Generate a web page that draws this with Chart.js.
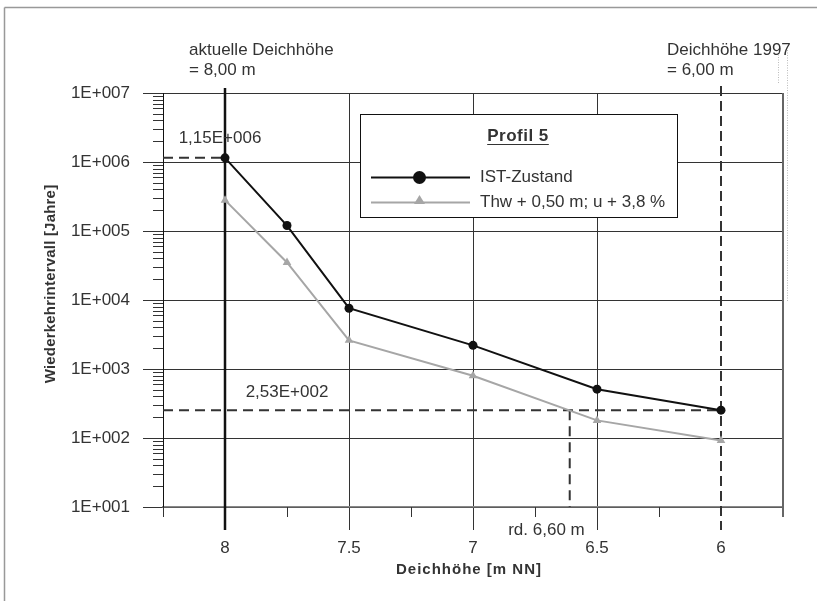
<!DOCTYPE html>
<html>
<head>
<meta charset="utf-8">
<script src="https://cdn.jsdelivr.net/npm/chart.js@4.4.1/dist/chart.umd.min.js"></script>
<style>
  html, body { margin: 0; padding: 0; background: #fff; }
  #wrap { width: 817px; height: 601px; }
</style>
</head>
<body>
<div id="wrap"><canvas id="chart" width="817" height="601"></canvas></div>
<script>
/* Profil 5 – Wiederkehrintervall über Deichhöhe */

// Deichhöhe [m NN] of the computed points
const deichhoehe = [8, 7.75, 7.5, 7, 6.5, 6];
// Wiederkehrintervall [Jahre]
const istZustand = [1.15e6, 1.2e5, 7.6e3, 2.2e3, 510, 253];
const thwSzenario = [2.8e5, 3.5e4, 2.6e3, 800, 180, 92];

const xTicks = [8, 7.5, 7, 6.5, 6];
const xMinorTicks = [8.25, 7.75, 7.25, 6.75, 6.25, 5.75];
const yTicks = [1e1, 1e2, 1e3, 1e4, 1e5, 1e6, 1e7];
const xMin = 5.75;
const xMax = 8.25;

// reference values
const aktuelleHoehe = 8;
const hoehe1997 = 6;
const wertAktuell = 1.15e6;
const wert1997 = 253;
const hoeheSzenario = 6.61;

const FONT = "'Liberation Sans', Arial, sans-serif";
const TXT = "#333";
const BLACK = "#111";
const GREY = "#a6a6a6";

Chart.defaults.font.family = FONT;
Chart.defaults.color = TXT;

const toPts = (ys) => deichhoehe.map((x, i) => ({ x, y: ys[i] }));

const refDash = {
  borderColor: "#333",
  borderWidth: 2,
  borderDash: [10, 6],
  pointRadius: 0,
  fill: false,
};

function line(ctx, x1, y1, x2, y2) {
  ctx.beginPath();
  ctx.moveTo(x1, y1);
  ctx.lineTo(x2, y2);
  ctx.stroke();
}

function text(ctx, str, x, y, align, font) {
  ctx.font = font || "17px " + FONT;
  ctx.textAlign = align || "left";
  ctx.textBaseline = "middle";
  ctx.fillStyle = TXT;
  ctx.fillText(str, x, y);
}

const extras = {
  id: "extras",
  beforeDraw(chart) {
    const ctx = chart.ctx;
    ctx.save();
    // outer frame of the figure
    ctx.strokeStyle = "#999";
    ctx.lineWidth = 1.5;
    line(ctx, 4.5, 7.5, 817, 7.5);
    line(ctx, 4.5, 7.5, 4.5, 601);
    ctx.restore();
  },
  beforeDatasetsDraw(chart) {
    const { ctx, chartArea: a, scales } = chart;
    const px = (v) => scales.x.getPixelForValue(v);
    const py = (v) => scales.y.getPixelForValue(v);
    ctx.save();

    // minor ticks
    ctx.strokeStyle = "#333";
    ctx.lineWidth = 1;
    yTicks.slice(0, -1).forEach((d) => {
      for (let k = 2; k <= 9; k++) {
        const y = Math.round(py(k * d)) + 0.5;
        line(ctx, a.left - 10, y, a.left, y);
      }
    });
    xMinorTicks.forEach((v) => {
      const x = Math.round(px(v)) + 0.5;
      line(ctx, x, a.bottom, x, a.bottom + 10);
    });

    // right border
    ctx.strokeStyle = "#666";
    ctx.lineWidth = 2;
    line(ctx, a.right, a.top, a.right, a.bottom + 10);

    // aktuelle Deichhöhe
    ctx.strokeStyle = BLACK;
    ctx.lineWidth = 2.5;
    line(ctx, px(aktuelleHoehe), a.top - 5, px(aktuelleHoehe), a.bottom + 23);

    // Deichhöhe 1997
    ctx.strokeStyle = "#333";
    ctx.lineWidth = 2;
    ctx.setLineDash([10, 5]);
    line(ctx, px(hoehe1997), a.top - 7, px(hoehe1997), a.bottom + 23);
    ctx.restore();
  },
  afterDraw(chart) {
    const { ctx, chartArea: a, scales } = chart;
    const px = (v) => scales.x.getPixelForValue(v);
    const py = (v) => scales.y.getPixelForValue(v);
    ctx.save();

    // annotations
    text(ctx, "aktuelle Deichhöhe", px(aktuelleHoehe) - 36, a.top - 43);
    text(ctx, "= 8,00 m", px(aktuelleHoehe) - 36, a.top - 23);
    text(ctx, "Deichhöhe 1997", px(hoehe1997) - 54, a.top - 43);
    text(ctx, "= 6,00 m", px(hoehe1997) - 54, a.top - 23);
    text(ctx, "1,15E+006", px(aktuelleHoehe) - 5, py(wertAktuell) - 19, "center");
    text(ctx, "2,53E+002", px(7.75), py(wert1997) - 18, "center");
    text(ctx, "rd. 6,60 m", px(hoeheSzenario) + 15, a.bottom + 23, "right");

    // axis titles
    ctx.letterSpacing = "1px";
    text(ctx, "Deichhöhe [m NN]", 469, 570, "center", "bold 15px " + FONT);
    ctx.translate(51, 284);
    ctx.rotate(-Math.PI / 2);
    ctx.letterSpacing = "0.2px";
    text(ctx, "Wiederkehrintervall [Jahre]", 0, 0, "center", "bold 15px " + FONT);
    ctx.setTransform(1, 0, 0, 1, 0, 0);
    ctx.letterSpacing = "0px";

    // legend box
    ctx.fillStyle = "#fff";
    ctx.fillRect(360.5, 114.5, 317, 103);
    ctx.strokeStyle = BLACK;
    ctx.lineWidth = 1;
    ctx.strokeRect(360.5, 114.5, 317, 103);

    ctx.letterSpacing = "0.5px";
    const tf = "bold 17px " + FONT;
    text(ctx, "Profil 5", 518, 136, "center", tf);
    ctx.font = tf;
    const tw = ctx.measureText("Profil 5").width;
    ctx.letterSpacing = "0px";
    ctx.strokeStyle = TXT;
    line(ctx, 518 - tw / 2, 144.5, 518 + tw / 2, 144.5);

    ctx.strokeStyle = BLACK;
    ctx.lineWidth = 2;
    line(ctx, 371, 177.5, 470, 177.5);
    ctx.fillStyle = BLACK;
    ctx.beginPath();
    ctx.arc(419.5, 177.5, 6.5, 0, Math.PI * 2);
    ctx.fill();
    text(ctx, "IST-Zustand", 480, 177.5);

    ctx.strokeStyle = GREY;
    line(ctx, 371, 202.5, 470, 202.5);
    ctx.fillStyle = GREY;
    ctx.beginPath();
    ctx.moveTo(419.5, 195);
    ctx.lineTo(425, 204);
    ctx.lineTo(414, 204);
    ctx.closePath();
    ctx.fill();
    text(ctx, "Thw + 0,50 m; u + 3,8 %", 480, 202.5);

    // dotted leftovers at the right edge
    ctx.strokeStyle = "#bbb";
    ctx.lineWidth = 1;
    ctx.setLineDash([1, 1.5]);
    line(ctx, 787.5, 50, 787.5, 302);
    line(ctx, 778.5, 52, 778.5, 84);
    ctx.restore();
  },
};

new Chart(document.getElementById("chart"), {
  type: "line",
  data: {
    datasets: [
      {
        label: "IST-Zustand",
        data: toPts(istZustand),
        borderColor: BLACK,
        backgroundColor: BLACK,
        borderWidth: 2,
        pointStyle: "circle",
        pointRadius: 4.5,
        pointBorderWidth: 0,
      },
      {
        label: "Thw + 0,50 m; u + 3,8 %",
        data: toPts(thwSzenario),
        borderColor: GREY,
        backgroundColor: GREY,
        borderWidth: 2,
        pointStyle: "triangle",
        pointRadius: 5,
        pointBorderWidth: 0,
      },
      { ...refDash, data: [{ x: xMax, y: wertAktuell }, { x: aktuelleHoehe, y: wertAktuell }] },
      { ...refDash, data: [{ x: xMax, y: wert1997 }, { x: hoehe1997, y: wert1997 }] },
      { ...refDash, data: [{ x: hoeheSzenario, y: wert1997 }, { x: hoeheSzenario, y: yTicks[0] }] },
    ],
  },
  options: {
    responsive: false,
    animation: false,
    events: [],
    layout: { padding: { left: 0, top: 93, right: 34, bottom: 0 } },
    plugins: { legend: { display: false }, tooltip: { enabled: false } },
    elements: { line: { tension: 0 } },
    scales: {
      x: {
        type: "linear",
        reverse: true,
        min: xMin,
        max: xMax,
        afterBuildTicks: (s) => {
          s.ticks = xTicks.map((v) => ({ value: v }));
        },
        afterFit: (s) => {
          s.height = 94;
          s.paddingLeft = 0;
          s.paddingRight = 0;
        },
        grid: {
          color: (c) =>
            c.tick && (c.tick.value === aktuelleHoehe || c.tick.value === hoehe1997)
              ? "transparent"
              : "#333",
          lineWidth: 1,
          tickLength: 23,
        },
        border: { color: "#888", width: 1.5 },
        ticks: {
          font: { size: 17 },
          color: TXT,
          padding: 8,
          maxRotation: 0,
          callback: (v) => String(v),
        },
      },
      y: {
        type: "logarithmic",
        min: yTicks[0],
        max: yTicks[yTicks.length - 1],
        afterBuildTicks: (s) => {
          s.ticks = yTicks.map((v) => ({ value: v }));
        },
        afterFit: (s) => {
          s.width = 163;
          s.paddingTop = 0;
          s.paddingBottom = 0;
        },
        grid: { color: "#333", lineWidth: 1, tickLength: 20 },
        border: { color: BLACK, width: 1 },
        ticks: {
          font: { size: 17 },
          color: TXT,
          padding: 13,
          callback: (v) => "1E+" + String(Math.round(Math.log10(v))).padStart(3, "0"),
        },
      },
    },
  },
  plugins: [extras],
});
</script>
</body>
</html>
